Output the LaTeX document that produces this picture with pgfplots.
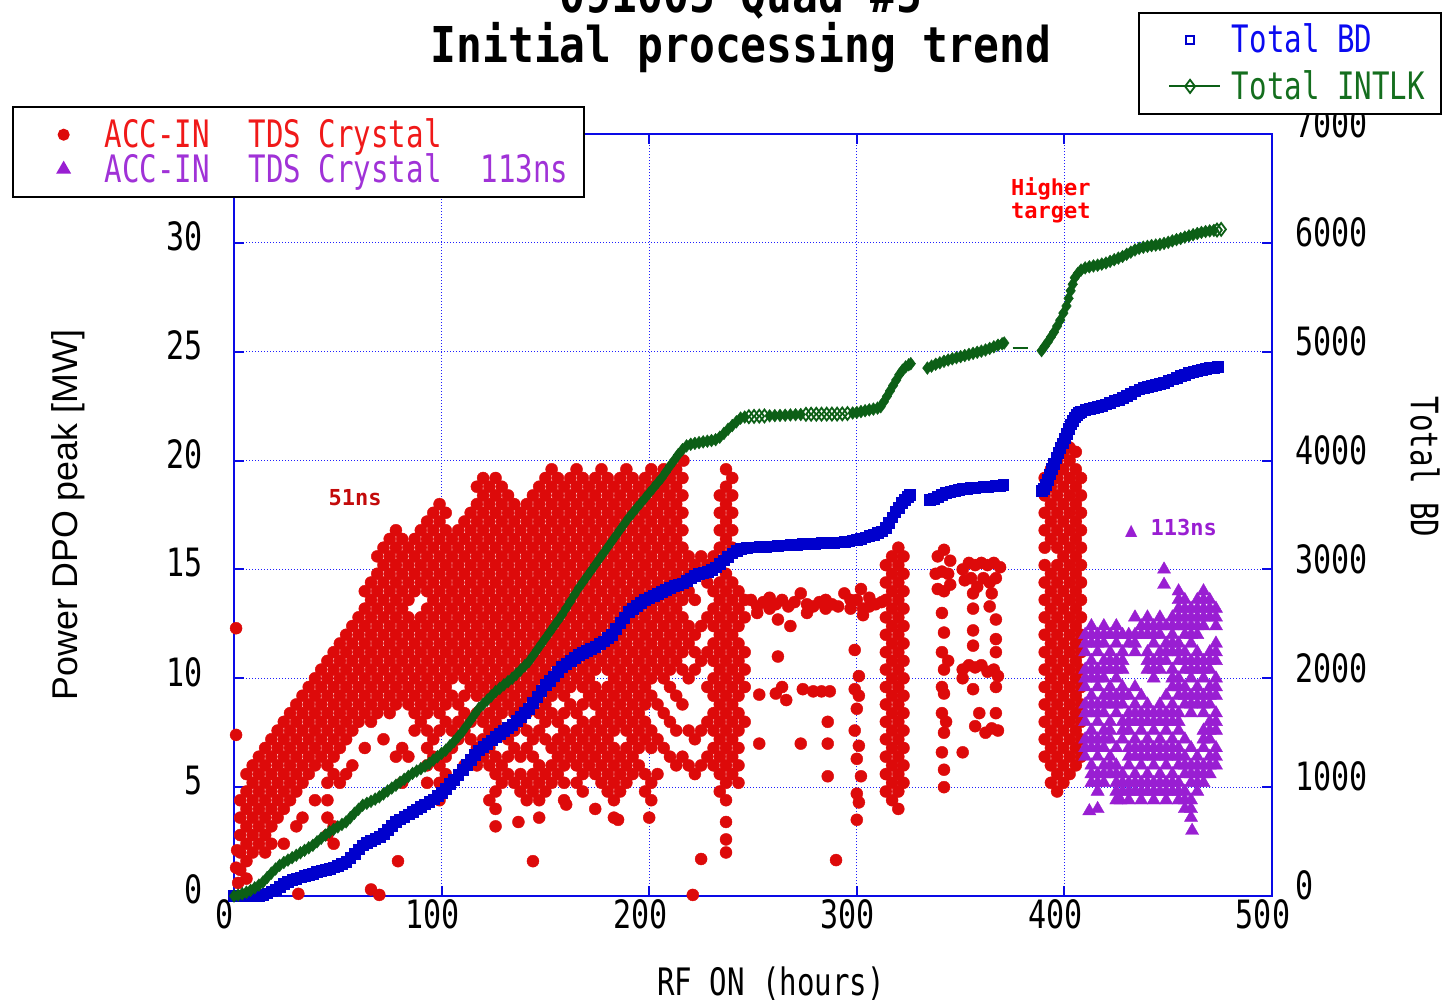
\documentclass[border=0pt]{standalone}
\usepackage{fontspec}
\usepackage{pgfplots}
\pgfplotsset{compat=1.18}
\setmainfont{DejaVu Sans Mono}
\newfontfamily\monof[FakeStretch=0.77]{DejaVu Sans Mono}
\newfontfamily\titlef[FakeStretch=0.87]{DejaVu Sans Mono}
\newfontfamily\annf{DejaVu Sans Mono}
\newfontfamily\labf{Liberation Sans}
\newfontfamily\symf{DejaVu Sans}
\newcommand\tickfont{\monof\fontsize{19.5pt}{22pt}\selectfont}
\newcommand\legfont{\monof\fontsize{18.9pt}{22pt}\selectfont}
\newcommand\annfont{\annf\bfseries\fontsize{11pt}{11.5pt}\selectfont}
\newcommand\gap{\ \ \hspace{2pt}}
\definecolor{cred}{RGB}{221,10,10}
\definecolor{cpur}{RGB}{153,30,210}
\definecolor{cblue}{RGB}{0,0,205}
\definecolor{cgreen}{RGB}{12,95,22}
\definecolor{cframe}{RGB}{10,10,230}
\definecolor{gridc}{RGB}{30,30,255}
\definecolor{legred}{RGB}{240,25,25}
\definecolor{legpur}{RGB}{160,50,215}
\definecolor{legblue}{RGB}{10,10,240}
\definecolor{leggreen}{RGB}{20,110,30}
\definecolor{annred}{RGB}{195,10,10}
\definecolor{hired}{RGB}{255,0,0}
\pgfplotsset{
  mylegimg/.style={legend image code/.code={
    \path[draw=none,fill=none] (-17.5pt,-4pt) rectangle (12.5pt,4pt);
    \draw[mark repeat=2,mark phase=2,##1] plot coordinates {(-10.5pt,0pt) (0pt,0pt) (15pt,0pt)};
  }},
  redmk/.style={forget plot, only marks, mark=*, mark size=3pt, color=cred, mark options={line width=0.2pt}},
  purmk/.style={forget plot, only marks, mark=triangle*, mark size=3.8pt, color=cpur, mark options={line width=0.2pt}},
}
\begin{document}
\begin{tikzpicture}
\path[use as bounding box] (0,0) rectangle (721.5pt,501.5pt);
\begin{axis}[
  at={(117pt,53.5pt)}, anchor=south west, scale only axis,
  width=519pt, height=381pt,
  xmin=0, xmax=500, ymin=0, ymax=35,
  xtick={0,100,...,500}, ytick={0,5,...,30},
  ytick pos=left,
  tick align=inside, major tick length=5pt,
  tick style={cframe, line width=1pt},
  axis line style={cframe, line width=1pt},
  grid=major,
  major grid style={gridc, line width=0.6pt, dash pattern=on 0.6pt off 0.9pt},
  ticklabel style={font=\tickfont},
  /pgf/number format/assume math mode=true,
  /pgf/number format/1000 sep={},
  yticklabel style={xshift=-12pt, yshift=3.2pt},
  xticklabel style={xshift=-4.5pt, yshift=2pt},
  clip=false,
  legend cell align=left,
  legend style={at={(-0.2142,1.0371)}, anchor=north west, draw=black, line width=1pt,
    fill=white, font=\legfont, inner xsep=8pt, inner ysep=6pt,
    row sep=1.3pt, column sep=8pt, nodes={inner sep=0pt}},
  mylegimg,
]
\addlegendimage{only marks, mark=*, mark size=2.5pt, cred}
\addlegendentry{\textcolor{legred}{ACC-IN\gap TDS Crystal}}
\addlegendimage{only marks, mark=triangle*, mark size=3.3pt, cpur}
\addlegendentry{\textcolor{legpur}{ACC-IN\gap TDS Crystal\gap 113ns}}

% ---- red: ACC-IN TDS Crystal (51 ns) ----
\addplot[redmk] coordinates {
(1,12.3)(1,7.4)(1.5,2.1)(2,0.6)(1,1.3)
(3,1.2)(3,2)(3,2.8)(3,3.6)(3,4.4)
(6,0.8)(6,1.6)(6,2.4)(6,3.2)(6,4)(6,4.8)(6,5.6)
(9,2)(9,2.8)(9,3.6)(9,4.4)(9,5.2)(9,6)
(12,2.4)(12,3.2)(12,4)(12,4.8)(12,5.6)(12,6.4)
(15,2)(15,2.8)(15,3.6)(15,4.4)(15,5.2)(15,6)(15,6.8)
(18,2.4)(18,3.2)(18,4)(18,4.8)(18,5.6)(18,6.4)(18,7.2)
(21,3.6)(21,4.4)(21,5.2)(21,6)(21,6.8)(21,7.6)
(24,2.4)(24,4)(24,4.8)(24,5.6)(24,6.4)(24,7.2)(24,8)
(27,4.4)(27,5.2)(27,6)(27,6.8)(27,7.6)(27,8.4)
(31,0.1)(30,3.2)(30,4.8)(30,5.6)(30,6.4)(30,7.2)(30,8)(30,8.8)
(33,3.6)(33,5.2)(33,6)(33,6.8)(33,7.6)(33,8.4)(33,9.2)
(36,5.6)(36,6.4)(36,7.2)(36,8)(36,8.8)(36,9.6)
(39,4.4)(39,6)(39,6.8)(39,7.6)(39,8.4)(39,9.2)(39,10)
(42,6.4)(42,7.2)(42,8)(42,8.8)(42,9.6)(42,10.4)
(45,2.8)(45,3.6)(45,4.4)(45,5.2)(45,6)(45,6.8)(45,7.6)(45,8.4)(45,9.2)(45,10)(45,10.8)
(48,2.4)(48,3.2)(48,5.6)(48,6.4)(48,7.2)(48,8)(48,8.8)(48,9.6)(48,10.4)(48,11.2)
(51,5.2)(51,6.8)(51,7.6)(51,8.4)(51,9.2)(51,10)(51,10.8)(51,11.6)
(54,5.6)(54,7.2)(54,8)(54,8.8)(54,9.6)(54,10.4)(54,11.2)(54,12)
(57,6)(57,7.6)(57,8.4)(57,9.2)(57,10)(57,10.8)(57,11.6)(57,12.4)
(60,8)(60,8.8)(60,9.6)(60,10.4)(60,11.2)(60,12)(60,12.8)
(63,6.8)(63,8.4)(63,9.2)(63,10)(63,10.8)(63,11.6)(63,12.4)(63,13.2)(63,14)
(66,0.3)(66,8)(66,8.8)(66,9.6)(66,10.4)(66,11.2)(66,12)(66,12.8)(66,13.6)(66,14.4)
(70,0.05)(69,8.4)(69,9.2)(69,10)(69,10.8)(69,11.6)(69,12.4)(69,13.2)(69,14)(69,14.8)(69,15.6)
(72,7.2)(72,8.8)(72,9.6)(72,10.4)(72,11.2)(72,12)(72,12.8)(72,13.6)(72,14.4)(72,15.2)(72,16)
(75,8.4)(75,9.2)(75,10)(75,10.8)(75,11.6)(75,12.4)(75,13.2)(75,14)(75,14.8)(75,15.6)(75,16.4)
(79,1.6)(78,6.4)(78,8.8)(78,9.6)(78,10.4)(78,11.2)(78,12)(78,12.8)(78,13.6)(78,14.4)(78,15.2)(78,16)(78,16.8)
(81,5.2)(81,6.8)(81,9.2)(81,10)(81,10.8)(81,11.6)(81,12.4)(81,13.2)(81,14)(81,14.8)(81,15.6)(81,16.4)
(84,6.4)(84,8.8)(84,9.6)(84,10.4)(84,11.2)(84,12)(84,12.8)(84,13.6)(84,14.4)(84,15.2)(84,16)
(87,7.6)(87,8.4)(87,9.2)(87,10)(87,10.8)(87,11.6)(87,12.4)(87,14)(87,14.8)(87,15.6)(87,16.4)
(90,8)(90,8.8)(90,9.6)(90,10.4)(90,11.2)(90,12)(90,12.8)(90,14.4)(90,15.2)(90,16)(90,16.8)
(93,5.2)(93,6)(93,6.8)(93,7.6)(93,8.4)(93,9.2)(93,10)(93,10.8)(93,11.6)(93,12.4)(93,13.2)(93,14)(93,14.8)(93,15.6)(93,16.4)(93,17.2)
};
\addplot[redmk] coordinates {
(96,6.4)(96,7.2)(96,8.8)(96,9.6)(96,10.4)(96,11.2)(96,12)(96,12.8)(96,13.6)(96,14.4)(96,15.2)(96,16)(96,16.8)(96,17.6)
(99,4.4)(99,5.2)(99,6)(99,7.6)(99,8.4)(99,9.2)(99,10)(99,10.8)(99,11.6)(99,12.4)(99,13.2)(99,14)(99,14.8)(99,15.6)(99,16.4)(99,17.2)(99,18)
(102,5.6)(102,6.4)(102,8)(102,8.8)(102,9.6)(102,10.4)(102,11.2)(102,12)(102,12.8)(102,13.6)(102,14.4)(102,15.2)(102,16)(102,16.8)(102,17.6)
(105,6.8)(105,7.6)(105,9.2)(105,10)(105,10.8)(105,11.6)(105,12.4)(105,13.2)(105,14)(105,14.8)(105,15.6)(105,16.4)
(108,7.2)(108,8)(108,8.8)(108,10.4)(108,11.2)(108,12)(108,12.8)(108,13.6)(108,14.4)(108,15.2)(108,16)(108,16.8)
(111,6)(111,7.6)(111,8.4)(111,9.2)(111,10)(111,10.8)(111,11.6)(111,12.4)(111,13.2)(111,14)(111,14.8)(111,15.6)(111,16.4)(111,17.2)
(114,7.2)(114,8)(114,9.6)(114,10.4)(114,11.2)(114,12)(114,12.8)(114,13.6)(114,14.4)(114,15.2)(114,16)(114,16.8)(114,17.6)
(117,6)(117,6.8)(117,8.4)(117,9.2)(117,10)(117,10.8)(117,11.6)(117,12.4)(117,13.2)(117,14)(117,14.8)(117,15.6)(117,16.4)(117,17.2)(117,18)(117,18.8)
(120,6.4)(120,7.2)(120,8)(120,9.6)(120,10.4)(120,11.2)(120,12)(120,12.8)(120,13.6)(120,14.4)(120,15.2)(120,16)(120,16.8)(120,17.6)(120,18.4)(120,19.2)
(123,4.4)(123,6)(123,6.8)(123,7.6)(123,8.4)(123,9.2)(123,10)(123,10.8)(123,11.6)(123,12.4)(123,13.2)(123,14)(123,14.8)(123,15.6)(123,16.4)(123,17.2)(123,18)(123,18.8)
(126,3.2)(126,4)(126,4.8)(126,5.6)(126,6.4)(126,8)(126,8.8)(126,9.6)(126,10.4)(126,11.2)(126,12)(126,12.8)(126,13.6)(126,14.4)(126,15.2)(126,16)(126,16.8)(126,17.6)(126,18.4)(126,19.2)
(129,5.2)(129,6)(129,7.6)(129,8.4)(129,9.2)(129,10)(129,10.8)(129,11.6)(129,12.4)(129,13.2)(129,14)(129,14.8)(129,15.6)(129,16.4)(129,17.2)(129,18)(129,18.8)
(132,5.6)(132,6.4)(132,7.2)(132,8.8)(132,9.6)(132,10.4)(132,11.2)(132,12)(132,12.8)(132,13.6)(132,14.4)(132,15.2)(132,16)(132,16.8)(132,17.6)(132,18.4)
(135,5.2)(135,6.8)(135,7.6)(135,8.4)(135,9.2)(135,10)(135,10.8)(135,11.6)(135,12.4)(135,13.2)(135,14)(135,14.8)(135,15.6)(135,16.4)(135,17.2)(135,18)
(138,4.8)(138,5.6)(138,6.4)(138,8)(138,8.8)(138,9.6)(138,10.4)(138,11.2)(138,12)(138,12.8)(138,13.6)(138,14.4)(138,15.2)(138,16)(138,16.8)(138,17.6)
(141,4.4)(141,5.2)(141,6.8)(141,7.6)(141,8.4)(141,9.2)(141,10)(141,10.8)(141,11.6)(141,12.4)(141,13.2)(141,14)(141,14.8)(141,15.6)(141,16.4)(141,17.2)(141,18)
(144,1.6)(144,4.8)(144,5.6)(144,6.4)(144,7.2)(144,8.8)(144,9.6)(144,10.4)(144,11.2)(144,12)(144,12.8)(144,13.6)(144,14.4)(144,15.2)(144,16)(144,16.8)(144,17.6)(144,18.4)
(147,3.6)(147,4.4)(147,5.2)(147,6)(147,7.6)(147,8.4)(147,9.2)(147,10)(147,10.8)(147,11.6)(147,12.4)(147,13.2)(147,14)(147,14.8)(147,15.6)(147,16.4)(147,17.2)(147,18)(147,18.8)
(150,4.8)(150,5.6)(150,7.2)(150,8)(150,8.8)(150,9.6)(150,10.4)(150,11.2)(150,12)(150,12.8)(150,13.6)(150,14.4)(150,15.2)(150,16)(150,16.8)(150,17.6)(150,18.4)(150,19.2)
};
\addplot[redmk] coordinates {
(153,5.2)(153,6)(153,6.8)(153,8.4)(153,9.2)(153,10)(153,10.8)(153,11.6)(153,12.4)(153,13.2)(153,14)(153,14.8)(153,15.6)(153,16.4)(153,17.2)(153,18)(153,18.8)(153,19.6)
(156,5.6)(156,6.4)(156,7.2)(156,8)(156,9.6)(156,10.4)(156,11.2)(156,12)(156,12.8)(156,13.6)(156,14.4)(156,15.2)(156,16)(156,16.8)(156,17.6)(156,18.4)(156,19.2)
(159,4.4)(159,5.2)(159,6)(159,6.8)(159,7.6)(159,8.4)(159,9.2)(159,10)(159,10.8)(159,11.6)(159,12.4)(159,13.2)(159,14)(159,14.8)(159,15.6)(159,16.4)(159,17.2)(159,18)(159,18.8)
(162,6.4)(162,7.2)(162,8.8)(162,9.6)(162,10.4)(162,11.2)(162,12)(162,12.8)(162,13.6)(162,14.4)(162,15.2)(162,16)(162,16.8)(162,17.6)(162,18.4)(162,19.2)
(165,5.2)(165,6)(165,6.8)(165,7.6)(165,8.4)(165,10)(165,10.8)(165,11.6)(165,12.4)(165,13.2)(165,14)(165,14.8)(165,15.6)(165,16.4)(165,17.2)(165,18)(165,18.8)(165,19.6)
(168,4.8)(168,5.6)(168,6.4)(168,7.2)(168,8)(168,8.8)(168,9.6)(168,10.4)(168,11.2)(168,12)(168,12.8)(168,13.6)(168,14.4)(168,15.2)(168,16)(168,16.8)(168,17.6)(168,18.4)(168,19.2)
(171,6)(171,6.8)(171,7.6)(171,9.2)(171,10)(171,10.8)(171,11.6)(171,12.4)(171,13.2)(171,14)(171,14.8)(171,15.6)(171,16.4)(171,17.2)(171,18)(171,18.8)
(174,4)(174,5.6)(174,6.4)(174,7.2)(174,8)(174,8.8)(174,9.6)(174,10.4)(174,11.2)(174,12)(174,12.8)(174,13.6)(174,14.4)(174,15.2)(174,16)(174,16.8)(174,17.6)(174,18.4)(174,19.2)
(177,5.2)(177,6)(177,6.8)(177,7.6)(177,8.4)(177,9.2)(177,10.8)(177,11.6)(177,12.4)(177,13.2)(177,14)(177,14.8)(177,15.6)(177,16.4)(177,17.2)(177,18)(177,18.8)(177,19.6)
(180,4.8)(180,5.6)(180,6.4)(180,7.2)(180,8)(180,8.8)(180,9.6)(180,10.4)(180,11.2)(180,12)(180,12.8)(180,13.6)(180,14.4)(180,15.2)(180,16)(180,16.8)(180,17.6)(180,18.4)(180,19.2)
(183,3.6)(183,4.4)(183,5.2)(183,6)(183,6.8)(183,7.6)(183,8.4)(183,9.2)(183,10)(183,10.8)(183,11.6)(183,12.4)(183,13.2)(183,14)(183,14.8)(183,15.6)(183,16.4)(183,17.2)(183,18)(183,18.8)
(186,4.8)(186,5.6)(186,6.4)(186,8)(186,8.8)(186,9.6)(186,10.4)(186,11.2)(186,12)(186,12.8)(186,13.6)(186,14.4)(186,15.2)(186,16)(186,16.8)(186,17.6)(186,18.4)(186,19.2)
(189,5.2)(189,6)(189,6.8)(189,7.6)(189,8.4)(189,9.2)(189,10)(189,10.8)(189,11.6)(189,12.4)(189,13.2)(189,14)(189,14.8)(189,15.6)(189,16.4)(189,17.2)(189,18)(189,18.8)(189,19.6)
(192,5.6)(192,6.4)(192,7.2)(192,8)(192,8.8)(192,9.6)(192,10.4)(192,11.2)(192,12)(192,12.8)(192,13.6)(192,14.4)(192,15.2)(192,16)(192,16.8)(192,17.6)(192,18.4)(192,19.2)
(195,6)(195,6.8)(195,7.6)(195,8.4)(195,9.2)(195,10)(195,10.8)(195,11.6)(195,12.4)(195,13.2)(195,14)(195,14.8)(195,15.6)(195,16.4)(195,17.2)(195,18)(195,18.8)
(198,4.8)(198,5.6)(198,7.2)(198,8)(198,8.8)(198,9.6)(198,10.4)(198,11.2)(198,12)(198,12.8)(198,13.6)(198,14.4)(198,15.2)(198,16)(198,16.8)(198,17.6)(198,18.4)(198,19.2)
(201,4.4)(201,5.2)(201,6.8)(201,7.6)(201,9.2)(201,10)(201,10.8)(201,11.6)(201,12.4)(201,13.2)(201,14)(201,14.8)(201,15.6)(201,16.4)(201,17.2)(201,18)(201,18.8)(201,19.6)
(204,5.6)(204,7.2)(204,8.8)(204,10.4)(204,11.2)(204,12)(204,12.8)(204,13.6)(204,14.4)(204,15.2)(204,16)(204,16.8)(204,17.6)(204,18.4)(204,19.2)
(207,6.8)(207,8.4)(207,10)(207,10.8)(207,11.6)(207,12.4)(207,13.2)(207,14)(207,14.8)(207,15.6)(207,16.4)(207,17.2)(207,18)(207,18.8)(207,19.6)
(210,6.4)(210,8)(210,9.6)(210,10.4)(210,11.2)(210,12)(210,12.8)(210,13.6)(210,14.4)(210,15.2)(210,16)(210,16.8)(210,17.6)(210,18.4)(210,19.2)
(213,6)(213,7.6)(213,9.2)(213,10.8)(213,11.6)(213,12.4)(213,13.2)(213,14)(213,14.8)(213,15.6)(213,16.4)(213,17.2)(213,18)(213,18.8)(213,19.6)
(216,6.4)(216,8.8)(216,10.4)(216,11.2)(216,12)(216,12.8)(216,13.6)(216,14.4)(216,15.2)(216,16)(216,16.8)(216,17.6)(216,18.4)(216,19.2)(216.5,20)
(137,3.4)(160,4.2)(185,3.5)(200,3.6)(221,0.05)(225,1.7)
};
\addplot[redmk] coordinates {
(219,15.6)(219,14.8)(219,14)(219,12.4)(219,11.6)(219,10)(219,7.6)(219,6)
(222,15.2)(222,13.6)(222,12)(222,11.2)(222,10.4)(222,7.2)(222,5.6)
(225,15.6)(225,14.8)(225,12.4)(225,10.8)(225,7.6)(225,6)
(228,15.2)(228,14.4)(228,12.8)(228,11.2)(228,9.6)(228,8)(228,6.4)
(231,15.6)(231,14)(231,13.2)(231,12.4)(231,11.6)(231,10.8)(231,10)(231,9.2)(231,8.4)(231,7.6)(231,6.8)(231,6)
(234,18.4)(234,17.6)(234,16.8)(234,16)(234,15.2)(234,14.4)(234,13.6)(234,12.8)(234,12)(234,11.2)(234,10.4)(234,9.6)(234,8.8)(234,8)(234,7.2)(234,6.4)(234,5.6)(234,4.8)
(237,19.6)(237,18.8)(237,18)(237,17.2)(237,16.4)(237,15.6)(237,14.8)(237,14)(237,13.2)(237,12.4)(237,11.6)(237,10.8)(237,10)(237,9.2)(237,8.4)(237,7.6)(237,6.8)(237,6)(237,5.2)(237,4.4)(237,3.4)(237,2.6)(237,2)
(240,19.2)(240,18.4)(240,17.6)(240,16.8)(240,16)(240,14.4)(240,13.6)(240,12.8)(240,12)(240,11.2)(240,10.4)(240,9.6)(240,8.8)(240,8)(240,7.2)(240,6.4)(240,5.6)
(243,14)(243,13.2)(243,12.4)(243,11.6)(243,10.8)(243,10)(243,9.2)(243,8.4)(243,7.6)(243,6.8)(243,6)(243,5.2)
(246,13.6)(246,12.8)(246,11.2)(246,10.4)(246,9.6)(246,8)
(249,13.6)(252,13.3)(252,13)(255,13.5)(258,13.2)(258,13.7)(261,13.4)(262,12.7)(264,13.6)(267,13.3)(268,12.4)
(270,13.5)(273,13.9)(276,13.4)(276,13)(279,13.3)(282,13.5)(285,13.2)(285,13.6)(288,13.4)(291,13.3)(294,13.9)
(297,13.2)(297,13.6)(300,13.6)(302,14.1)(303,13.2)(303,12.9)(306,13.3)(306,13.7)(309,13.4)(312,13.5)
(253,9.25)(261,9.3)(266,9)(264,9.6)(274,9.5)(279,9.4)(283,9.4)(287,9.4)(262,11)(286,8)(253,7)(273,7)(286,7)(286,5.5)(290,1.65)
(299,11.3)(301,10.1)(299,9.5)(301,9.2)(300,8.6)(299,7.6)(301,6.9)(300,6.3)(302,5.5)(300,4.7)(301,4.3)(300,3.5)
(314,15.2)(314,14.4)(314,13.6)(314,12.8)(314,12)(314,11.2)(314,10.4)(314,9.6)(314,8.8)(314,8)(314,7.2)(314,6.4)(314,5.6)(314,4.8)
(317,15.6)(317,14.8)(317,14)(317,13.2)(317,12.4)(317,11.6)(317,10.8)(317,10)(317,9.2)(317,8.4)(317,7.6)(317,6.8)(317,6)(317,5.2)(317,4.4)
(320,16)(320,15.2)(320,14.4)(320,13.6)(320,12.8)(320,12)(320,11.2)(320,10.4)(320,9.6)(320,8.8)(320,8)(320,7.2)(320,6.4)(320,5.6)(320,4.8)(320,4)
(322.5,15.6)(322.5,14.8)(322.5,14)(322.5,13.2)(322.5,12.4)(322.5,11.6)(322.5,10.8)(322.5,10)(322.5,9.2)(322.5,8.4)(322.5,7.6)(322.5,6.8)(322.5,6)(322.5,5.2)
(339,15.6)(342,15.9)(345,15.4)(338,14.8)(341,14.9)(344,14.8)(339,14.1)(342,14)(345,14.3)(341,13)(342,12.1)(341,11.2)(342,10.4)(344,10.8)(341,9.6)(342,9.3)(341,8.4)(343,8)(342,7.5)(341,6.6)(342,5.8)(342,5)
(351,15)(354,15.3)(357,15.2)(360,15.3)(363,15.2)(366,15.3)(369,15.1)(352,14.5)(355,14.6)(358,14.2)(361,14.6)(364,14.4)(367,14.6)(356,13.9)(365,13.9)
(356,13.2)(364,13.3)(356,12.2)(356,11.5)(367,12.7)(367,11.8)(367,11.2)(351,10.4)(354,10.6)(357,10.5)(360,10.6)(363,10.3)(366,10.4)(368,10.1)
(356,9.5)(367,9.6)(351,10)(359,8.4)(367,8.4)(357,7.8)(362,7.5)(365,7.7)(368,7.6)(351,6.6)
(390.5,6.4)(390.5,7.2)(390.5,8)(390.5,8.8)(390.5,9.6)(390.5,10.4)(390.5,11.2)(390.5,12)(390.5,12.8)(390.5,13.6)(390.5,14.4)(390.5,15.2)(390.5,16)(390.5,16.8)(390.5,17.6)(390.5,18.4)(390.5,19.2)
(393.5,5.2)(393.5,6)(393.5,6.8)(393.5,7.6)(393.5,8.4)(393.5,9.2)(393.5,10)(393.5,10.8)(393.5,11.6)(393.5,12.4)(393.5,13.2)(393.5,14)(393.5,14.8)(393.5,16.4)(393.5,17.2)(393.5,18)(393.5,18.8)(393.5,19.6)
(396.5,4.8)(396.5,5.6)(396.5,6.4)(396.5,7.2)(396.5,8)(396.5,8.8)(396.5,9.6)(396.5,10.4)(396.5,11.2)(396.5,12)(396.5,12.8)(396.5,13.6)(396.5,14.4)(396.5,15.2)(396.5,16)(396.5,16.8)(396.5,17.6)(396.5,18.4)(396.5,19.2)(396.5,20)
(399.5,5.2)(399.5,6)(399.5,6.8)(399.5,7.6)(399.5,8.4)(399.5,9.2)(399.5,10)(399.5,10.8)(399.5,11.6)(399.5,12.4)(399.5,13.2)(399.5,14)(399.5,14.8)(399.5,15.6)(399.5,16.4)(399.5,17.2)(399.5,18)(399.5,18.8)(399.5,19.6)(399.5,20.4)
(402.5,5.6)(402.5,6.4)(402.5,7.2)(402.5,8)(402.5,8.8)(402.5,9.6)(402.5,10.4)(402.5,11.2)(402.5,12)(402.5,12.8)(402.5,13.6)(402.5,14.4)(402.5,15.2)(402.5,16)(402.5,16.8)(402.5,17.6)(402.5,18.4)(402.5,19.2)(402.5,20)(402.5,20.6)
(405.5,6)(405.5,6.8)(405.5,7.6)(405.5,8.4)(405.5,9.2)(405.5,10)(405.5,10.8)(405.5,11.6)(405.5,12.4)(405.5,13.2)(405.5,14)(405.5,14.8)(405.5,15.6)(405.5,16.4)(405.5,17.2)(405.5,18)(405.5,18.8)(405.5,19.6)(405.5,20.4)
(408,6.4)(408,7.2)(408,8)(408,8.8)(408,9.6)(408,10.4)(408,11.2)(408,12)(408,12.8)(408,13.6)(408,14.4)(408,15.2)(408,16)(408,16.8)(408,17.6)(408,18.4)(408,19.2)
};
% ---- purple: ACC-IN TDS Crystal 113 ns ----
\addplot[purmk] coordinates {
(410,6.4)(410,7.2)(410,8)(410,8.8)(410,9.6)(410,10.4)(410,11.2)(410,12)
(413,5.2)(413,6)(413,6.8)(413,7.6)(413,8.4)(413,9.2)(413,10)(413,10.8)(413,11.6)(413,12.4)(412,3.9)
(416,4.8)(416,5.6)(416,6.4)(416,7.2)(416,8)(416,8.8)(416,9.6)(416,10.4)(416,11.2)(416,12)(416,4)
(419,5.2)(419,6)(419,6.8)(419,7.6)(419,8.4)(419,9.2)(419,10)(419,10.8)(419,11.6)(419,12.4)
(422,5.6)(422,6.4)(422,7.2)(422,8)(422,8.8)(422,9.6)(422,10.4)(422,11.2)(422,12)
(425,4.4)(425,5.2)(425,6)(425,6.8)(425,8.4)(425,9.2)(425,10)(425,10.8)(425,11.6)(425,12.4)
(428,4.8)(428,5.6)(428,7.2)(428,8)(428,8.8)(428,9.6)(428,10.4)(428,11.2)(428,12)(427,4.4)
(431,4.4)(431,5.2)(431,6)(431,6.8)(431,7.6)(431,8.4)(431,9.2)(431,11.6)
(434,4.8)(434,5.6)(434,6.4)(434,7.2)(434,8)(434,8.8)(434,9.6)(434,11.2)(434,12)(434,12.8)
(437,4.4)(437,5.2)(437,6)(437,6.8)(437,7.6)(437,8.4)(437,9.2)(437,12.4)
(440,4.8)(440,5.6)(440,6.4)(440,7.2)(440,8)(440,8.8)(440,10.4)(440,11.2)(440,12)(440,12.8)
(443,4.4)(443,5.2)(443,6)(443,6.8)(443,7.6)(443,8.4)(443,10)(443,10.8)(443,11.6)(443,12.4)
(446,4.8)(446,5.6)(446,6.4)(446,7.2)(446,8)(446,8.8)(446,10.4)(446,11.2)(446,12)(446,12.8)
(449,4.4)(449,5.2)(449,6)(449,6.8)(449,7.6)(449,8.4)(449,9.2)(449,10.8)(449,11.6)(449,12.4)(448,15)(448,14.3)
(452,4.8)(452,5.6)(452,6.4)(452,7.2)(452,8)(452,8.8)(452,9.6)(452,10.4)(452,11.2)(452,12)(452,12.8)
(455,4.4)(455,5.2)(455,6)(455,6.8)(455,7.6)(455,8.4)(455,9.2)(455,10)(455,10.8)(455,11.6)(455,12.4)(455,13.2)(455,14)
(458,4)(458,4.8)(458,5.6)(458,6.4)(458,7.2)(458,8.8)(458,9.6)(458,10.4)(458,11.2)(458,12)(458,12.8)(458,13.6)
(461,3.6)(461,4.4)(461,5.2)(461,6)(461,6.8)(461,8.4)(461,9.2)(461,10)(461,10.8)(461,11.6)(461,12.4)(461,13.2)(461.5,3)
(464,4.8)(464,5.6)(464,6.4)(464,8.8)(464,9.6)(464,10.4)(464,11.2)(464,12)(464,12.8)(464,13.6)
(467,5.2)(467,6)(467,6.8)(467,7.6)(467,8.4)(467,9.2)(467,10)(467,10.8)(467,12.4)(467,13.2)(467,14)
(470,5.6)(470,6.4)(470,7.2)(470,8)(470,8.8)(470,9.6)(470,10.4)(470,11.2)(470,12.8)(470,13.6)
(473,6)(473,6.8)(473,7.6)(473,8.4)(473,9.2)(473,10)(473,10.8)(473,11.6)(473,12.4)(473,13.2)
};
\addplot[purmk] coordinates {
(410,6.8)(410,8.4)(410,10)(410,11.6)
(413,5.6)(413,7.2)(413,8.8)(413,10.4)(413,12)
(416,5.2)(416,6.8)(416,8.4)(416,10)(416,11.6)
(419,5.6)(419,7.2)(419,8.8)(419,10.4)(419,12)
(422,6)(422,7.6)(422,9.2)(422,10.8)
(425,4.8)(425,5.6)(425,8.8)(425,10.4)(425,12)
(428,5.2)(428,7.6)(428,9.2)(428,10.8)
(431,4.8)(431,6.4)(431,8)(431,12)
(434,5.2)(434,6.8)(434,8.4)(434,11.6)
(437,4.8)(437,6.4)(437,8)(437,12)
(440,5.2)(440,6.8)(440,8.4)(440,10.8)(440,12.4)
(443,4.8)(443,6.4)(443,8)(443,10.4)(443,12)
(446,5.2)(446,6.8)(446,8.4)(446,10.8)(446,12.4)
(449,4.8)(449,6.4)(449,8)(449,11.2)
(452,5.2)(452,6.8)(452,8.4)(452,10)(452,11.6)(452,12.4)
(455,4.8)(455,6.4)(455,8)(455,9.6)(455,11.2)(455,12.8)(455,13.6)
(458,4.4)(458,6)(458,9.2)(458,10.8)(458,12.4)(458,13.2)
(461,4)(461,5.6)(461,8.8)(461,10.4)(461,12)(461,12.8)
(464,5.2)(464,6)(464,9.2)(464,10.8)(464,12.4)(464,13.2)
(467,5.6)(467,7.2)(467,8.8)(467,10.4)(467,12.8)(467,13.6)
(470,6)(470,7.6)(470,9.2)(470,10.8)(470,13.2)
(473,6.4)(473,8)(473,9.6)(473,11.2)(473,12.8)
};
\node[font=\annfont, text=annred] at (axis cs:58.3,18.3) {51ns};
\node[font=\annfont, text=hired, align=center] at (axis cs:393.5,31.95) {Higher\\target};
\node[font=\annfont, text=cpur] at (axis cs:451.3,16.9) {{\symf\fontsize{8pt}{9pt}\selectfont ▲}\ 113ns};
\end{axis}

\begin{axis}[
  at={(117pt,53.5pt)}, anchor=south west, scale only axis,
  width=519pt, height=381pt,
  xmin=0, xmax=500, ymin=0, ymax=7000,
  hide x axis, axis y line*=right,
  ytick={0,1000,...,7000},
  tick align=inside, major tick length=5pt,
  tick style={cframe, line width=1pt},
  axis line style={-, cframe, line width=1pt},
  ticklabel style={font=\tickfont},
  /pgf/number format/assume math mode=true,
  /pgf/number format/1000 sep={},
  yticklabel style={xshift=8pt, yshift=5.2pt},
  clip=false,
  legend cell align=left,
  legend style={at={(1.1635,1.1605)}, anchor=north east, draw=black, line width=1pt,
    fill=white, font=\legfont, inner xsep=8pt, inner ysep=5.6pt,
    row sep=7.3pt, column sep=5.5pt, nodes={inner sep=0pt}},
  mylegimg,
]
\addlegendimage{only marks, mark=square, mark size=2pt, cblue, mark options={line width=0.9pt, fill=white}}
\addlegendentry{\textcolor{legblue}{Total BD}}
\addlegendimage{cgreen, line width=0.9pt, mark=diamond, mark size=3.3pt, mark options={fill=white, line width=0.9pt}}
\addlegendentry{\textcolor{leggreen}{Total INTLK}}

% ---- Total BD ----
\addplot[forget plot, only marks, mark=square*, mark size=2.7pt, color=cblue, mark options={line width=0.2pt}] coordinates {
(0,0)(2,0)(4,0)(6,0)(8,2)(10,3)(12,5)(14,10)(16,25)(18,45)(20,60)(22,85)(24,110)(26,130)(28,148)(30,160)(32,172)(34,185)(36,195)(38,208)(40,220)(42,230)(44,240)(46,250)(48,265)(50,280)(52,296)(54,313)(56,350)(58,390)(60,430)(62,466)(64,490)(66,510)(68,527)(70,543)(72,575)(74,610)(76,645)(78,681)(80,705)(82,730)(84,752)(86,773)(88,797)(90,820)(92,843)(94,865)(96,890)(98,920)(100,950)(102,988)(104,1030)(106,1070)(108,1112)(110,1157)(112,1203)(114,1250)(116,1295)(118,1340)(120,1370)(122,1400)(124,1432)(126,1463)(128,1490)(130,1515)(132,1543)(134,1571)(136,1610)(138,1650)(140,1687)(142,1724)(144,1777)(146,1830)(148,1885)(150,1939)(152,1980)(154,2020)(156,2063)(158,2107)(160,2135)(162,2160)(164,2188)(166,2215)(168,2235)(170,2255)(172,2273)(174,2291)(176,2315)(178,2340)(180,2370)(182,2399)(184,2455)(186,2510)(188,2560)(190,2613)(192,2640)(194,2670)(196,2695)(198,2721)(200,2740)(202,2760)(204,2778)(206,2797)(208,2815)(210,2835)(212,2852)(214,2862)(216,2874)(218,2895)(220,2920)(222,2945)(224,2960)(226,2972)(228,2982)(230,3000)(232,3020)(234,3050)(236,3085)(238,3115)(240,3150)(242,3175)(244,3190)
(247,3200)(250,3204)(253,3207)(256,3210)(259,3214)(262,3219)(265,3223)(268,3226)(271,3229)(274,3233)(277,3237)(280,3240)(283,3242)(286,3246)(289,3249)(292,3251)
(294,3255)(296,3260)(298,3268)(300,3276)(302,3286)(304,3297)(306,3309)(308,3322)(310,3337)(312,3352)(314,3380)(315.5,3430)(317,3480)(318.5,3530)(320,3570)(321.5,3610)(323,3640)(324.5,3668)(325.5,3685)
(335,3640)(337,3652)(339,3668)(341,3686)(343,3705)(345,3716)(347,3726)(349,3733)(351,3739)(353,3744)(355,3748)(357,3752)(359,3755)(361,3758)(363,3761)(365,3764)(367,3768)(369,3772)(370.5,3776)
(389,3720)(390,3745)(391,3780)(392,3825)(393,3875)(394,3925)(395,3975)(396,4025)(397,4075)(398,4120)(399,4160)(400,4205)(401,4250)(402,4295)(403,4335)(404,4370)(405,4398)(406,4420)(407,4438)(408,4452)(410,4465)(412,4475)(414,4485)(416,4495)(418,4505)(420,4518)(422,4532)(424,4547)(426,4562)(428,4578)(430,4597)(432,4617)(434,4637)(436,4655)(438,4667)(440,4678)(442,4688)(444,4697)(446,4705)(448,4718)(450,4732)(452,4747)(454,4763)(456,4778)(458,4792)(460,4805)(462,4816)(464,4826)(466,4835)(468,4842)(470,4850)(472,4856)(474,4862)
};
% ---- Total INTLK ----
\addplot[forget plot, color=cgreen, line width=1pt, mark=diamond*, mark size=3.2pt, mark options={line width=0.2pt}] coordinates {
(0,0)(2,8)(4,20)(6,35)(8,52)(10,75)(12,100)(14,129)(16,170)(18,210)(20,248)(22,282)(24,308)(26,330)(28,352)(30,374)(32,397)(34,420)(36,443)(38,466)(40,498)(42,530)(44,560)(46,589)(48,612)(50,635)(52,658)(54,681)(56,720)(58,760)(60,797)(62,834)(64,852)(66,870)(68,890)(70,911)(72,938)(74,965)(76,992)(78,1018)(80,1045)(82,1072)(84,1099)(86,1126)(88,1148)(90,1170)(92,1194)(94,1218)(96,1249)(98,1280)(100,1310)(102,1340)(104,1380)(106,1420)(108,1465)(110,1509)(112,1562)(114,1615)(116,1670)(118,1724)(120,1762)(122,1800)(124,1838)(126,1877)(128,1908)(130,1940)(132,1970)(134,2000)(136,2037)(138,2075)(140,2114)(142,2153)(144,2206)(146,2260)(148,2314)(150,2368)(152,2421)(154,2475)(156,2529)(158,2583)(160,2644)(162,2705)(164,2767)(166,2828)(168,2882)(170,2935)(172,2989)(174,3043)(176,3097)(178,3150)(180,3204)(182,3258)(184,3311)(186,3365)(188,3418)(190,3472)(192,3518)(194,3565)(196,3610)(198,3656)(200,3702)(202,3748)(204,3794)(206,3840)(208,3895)(210,3950)(212,4002)(214,4055)(216,4100)(218,4135)(220,4150)(222,4158)(224,4165)(226,4172)(228,4178)(230,4184)(232,4192)(234,4215)(236,4250)(238,4288)(240,4322)(242,4356)(244,4390)(246,4400)
};
\addplot[forget plot, only marks, color=cgreen, mark=diamond*, mark size=3.2pt, mark options={line width=0.2pt}] coordinates {
(258,4411)(260.5,4413)(263,4415)(265.5,4417)(268,4419)(270.5,4421)(273,4423)
};
\addplot[forget plot, only marks, color=cgreen, mark=diamond, mark size=3.2pt, mark options={line width=0.9pt, fill=white}] coordinates {
(248,4403)(250.5,4406)(253,4408)(255.5,4410)(275.5,4425)(278,4426)(280.5,4426)(283,4426)(285.5,4427)(288,4427)(290.5,4427)(293,4429)(295.5,4432)
};
\addplot[forget plot, color=cgreen, line width=1pt, mark=diamond*, mark size=3.2pt, mark options={line width=0.2pt}] coordinates {
(298,4437)(300,4442)(302,4450)(304,4458)(306,4466)(308,4473)(310,4482)(311.5,4495)(313,4540)(314.5,4590)(316,4640)(317.5,4690)(319,4740)(320.5,4790)(322,4830)(323.5,4860)(325,4880)(326,4890)
};
\addplot[forget plot, color=cgreen, line width=1pt, mark=diamond*, mark size=3.2pt, mark options={line width=0.2pt}] coordinates {
(334,4850)(336,4868)(338,4885)(340,4898)(342,4912)(344,4924)(346,4935)(348,4945)(350,4955)(352,4965)(354,4975)(356,4985)(358,4995)(360,5005)(362,5016)(364,5030)(366,5045)(368,5060)(370,5073)(371,5080)
};
\addplot[forget plot, color=cgreen, line width=1pt] coordinates {(375,5037)(382.5,5037)};
\addplot[forget plot, color=cgreen, line width=1pt, mark=diamond*, mark size=3.2pt, mark options={line width=0.2pt}] coordinates {
(389,5010)(390.5,5050)(392,5090)(393.5,5135)(395,5180)(396.5,5235)(398,5290)(399.5,5355)(401,5420)(402,5490)(403,5560)(404,5620)(405,5680)(406.5,5720)(408,5750)(410,5770)(412,5780)(414,5788)(416,5795)(418,5805)(420,5815)(422,5830)(424,5845)(426,5860)(428,5875)(430,5895)(432,5915)(434,5935)(436,5950)(438,5960)(440,5968)(442,5975)(444,5980)(446,5986)(448,5995)(450,6005)(452,6018)(454,6030)(456,6040)(458,6053)(460,6064)(462,6075)(464,6086)(466,6096)(468,6104)(470,6110)(472,6115)
};
\addplot[forget plot, only marks, color=cgreen, mark=diamond, mark size=3.2pt, mark options={line width=0.9pt, fill=white}] coordinates {(473.5,6118)(475.5,6124)};
\end{axis}

\node[font=\titlef\bfseries\fontsize{24.7pt}{29pt}\selectfont, anchor=base] at (370.5pt,495pt) {091005 Quad \#5};
\node[font=\titlef\bfseries\fontsize{24.7pt}{29pt}\selectfont, anchor=base] at (370.5pt,470pt) {Initial processing trend};
\node[font=\labf\fontsize{17.9pt}{20pt}\selectfont, rotate=90] at (34pt,244pt) {Power DPO peak [MW]};
\node[font=\legfont, anchor=base] at (385.5pt,4pt) {RF ON (hours)};
\node[font=\legfont, rotate=-90] at (712.5pt,268pt) {Total BD};
\end{tikzpicture}
\end{document}
